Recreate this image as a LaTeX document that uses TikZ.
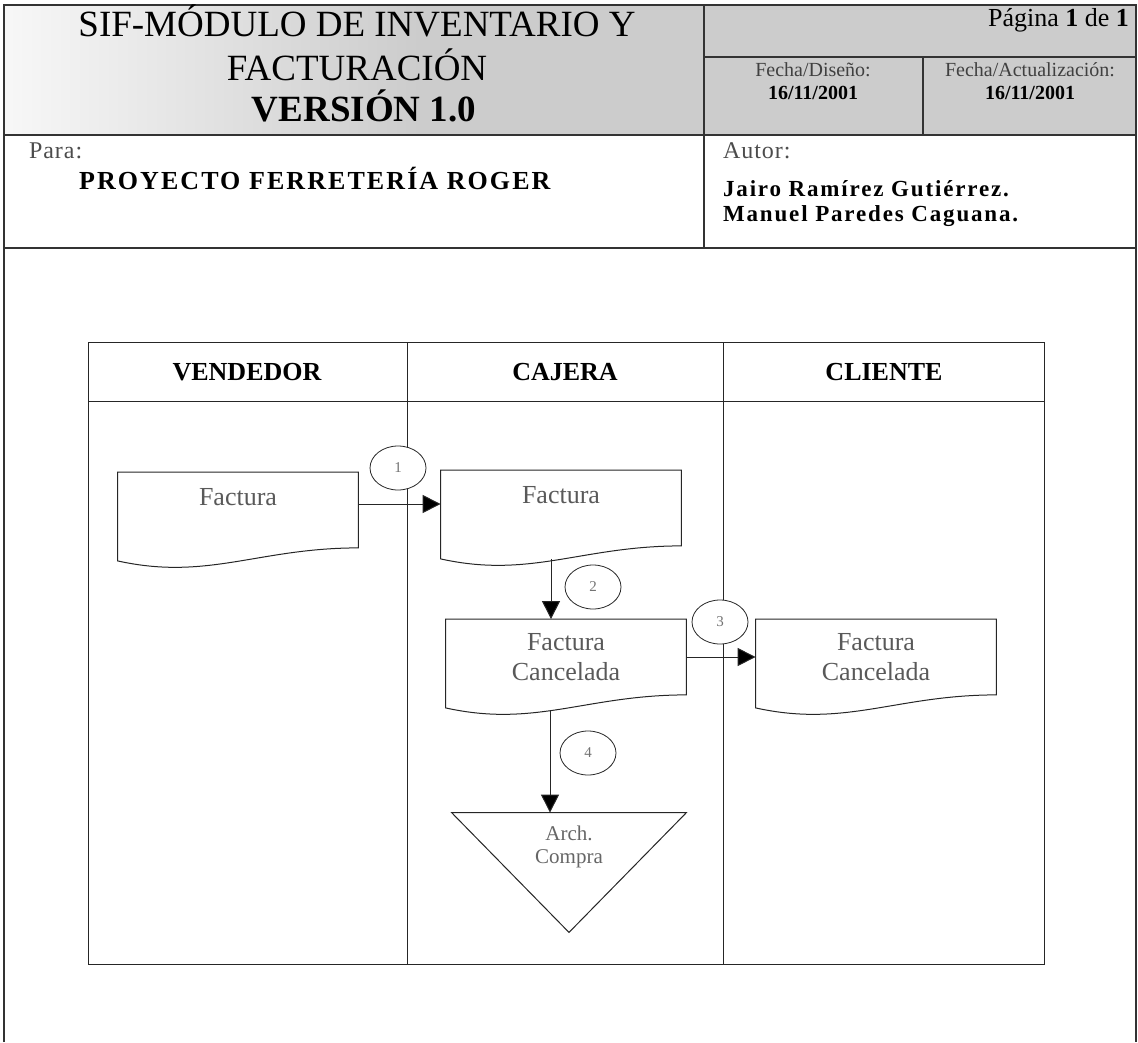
\documentclass[tikz,border=0pt]{standalone}
\usepackage{fontspec}
\setmainfont{Liberation Serif}
\newfontfamily\spacedfont[LetterSpace=8]{Liberation Serif}
\newfontfamily\lightspaced[LetterSpace=4]{Liberation Serif}
\usetikzlibrary{arrows.meta, shapes.geometric, calc, positioning}

\begin{document}
\begin{tikzpicture}[x=0.5pt, y=-0.5pt,
    line/.style={draw=black!85, line width=0.5pt},
    frame/.style={draw=black!80, line width=0.8pt},
    doc/.style={minimum width=120pt, minimum height=37.5pt, inner sep=0pt, align=center, font=\fontsize{13}{15}\selectfont, text=black!65},
    doctop/.style={doc, text height=16.5pt, text depth=21pt},
    num/.style={ellipse, draw=black!85, fill=white, minimum width=28pt, minimum height=22pt, inner sep=0pt, font=\fontsize{7.5}{8}\selectfont, text=black!55},
    lane/.style={font=\bfseries\fontsize{13}{15}\selectfont},
    title/.style={anchor=base, font=\fontsize{18.5}{20}\selectfont},
    flow/.style={line, -{Triangle[length=9pt, width=9pt, fill=black]}}]
  \useasboundingbox (0,0) rectangle (1138,1042);
  % header band
  \shade[left color=black!3, right color=black!20] (4,5) rectangle (420,135);
  \fill[black!20] (420,5) rectangle (1136,135);
  \draw[frame]
  (4,1042) -- (4,5) -- (1136,5) -- (1136,1042)
  (704,5) -- (704,248)
  (704,57) -- (1136,57)
  (923,57) -- (923,135)
  (4,135) -- (1136,135)
  (4,248) -- (1136,248);
  \node[title] (t1) at (357,37) {SIF-MÓDULO DE INVENTARIO Y};
  \node[title] (t2) at (357,81) {FACTURACIÓN};
  \node[title, font=\bfseries\fontsize{18.5}{20}\selectfont] (t3) at (364,122) {VERSIÓN 1.0};
  \node[anchor=base east, font=\fontsize{13}{15}\selectfont] (pag) at (1136,27) {Página \textbf{1} de \textbf{1}};
  \node[anchor=base, font=\fontsize{10}{12}\selectfont, text=black!75] (fd) at (813,77) {Fecha/Diseño:};
  \node[anchor=base, font=\bfseries\fontsize{10}{12}\selectfont] (fdv) at (813,100) {16/11/2001};
  \node[anchor=base, font=\fontsize{10}{12}\selectfont, text=black!75] (fa) at (1030,77) {Fecha/Actualización:};
  \node[anchor=base, font=\bfseries\fontsize{10}{12}\selectfont] (fav) at (1030,100) {16/11/2001};
  \node[anchor=base west, font=\lightspaced\fontsize{12}{14}\selectfont, text=black!70] (para) at (22,159) {Para:};
  \node[anchor=base west, font=\spacedfont\bfseries\fontsize{13}{15}\selectfont] (proy) at (72,190) {PROYECTO FERRETERÍA ROGER};
  \node[anchor=base west, font=\lightspaced\fontsize{12}{14}\selectfont, text=black!70] (autor) at (716,159) {Autor:};
  \node[anchor=base west, font=\spacedfont\bfseries\fontsize{11.5}{13}\selectfont] (au1) at (716,197) {Jairo Ramírez Gutiérrez.};
  \node[anchor=base west, font=\spacedfont\bfseries\fontsize{11.5}{13}\selectfont] (au2) at (716,222) {Manuel Paredes Caguana.};
  % lanes
  \draw[line]
  (88,343) rectangle (1044,964)
  (88,401) -- (1044,401)
  (407,343) -- (407,964)
  (723,343) -- (723,964);
  \node[lane] (vend) at (247,372) {VENDEDOR};
  \node[lane] (caj) at (565,372) {CAJERA};
  \node[lane] (cli) at (884,372) {CLIENTE};
  % documents
  \node[doctop] (f1) at (238,510) {Factura};
  \node[doctop] (f2) at (561,508) {Factura};
  \node[doc] (f3) at (566,657) {Factura\\Cancelada};
  \node[doc] (f4) at (876,657) {Factura\\Cancelada};
  \foreach \b in {f1,f2,f3,f4}
    \draw[line] (\b.north west) -- (\b.north east) -- (\b.south east)
      .. controls ($(\b.south east)+(-100,0)$) and ($(\b.south west)+(90,33)$) .. ($(\b.south west)+(0,13)$) -- cycle;
  \node[minimum width=117pt, minimum height=59.5pt, inner sep=0pt] (arch) at (569,872.5) {};
  \draw[line] (arch.north west) -- (arch.north east) -- (arch.south) -- cycle;
  \node[align=center, font=\fontsize{10.5}{11.5}\selectfont, text=black!60] (archtxt) at (569,847) {Arch.\\Compra};
  % arrows
  \coordinate (a1) at ($(f1.east)+(0,-6)$);
  \coordinate (a2) at ($(f2.south)+(-10,13)$);
  \coordinate (a4) at ($(f3.south)+(-16,16)$);
  \draw[flow] (a1) -- (a1 -| f2.west);
  \draw[flow] (a2) -- (a2 |- f3.north);
  \draw[flow] (f3.east) -- (f4.west);
  \draw[flow] (a4) -- (a4 |- arch.north);
  % step numbers
  \node[num] (n1) at (398,468) {1};
  \node[num] (n2) at (593,587) {2};
  \node[num] (n3) at (720,622) {3};
  \node[num] (n4) at (588,753) {4};
\end{tikzpicture}
\end{document}
